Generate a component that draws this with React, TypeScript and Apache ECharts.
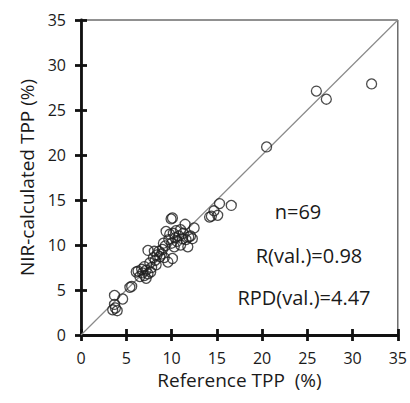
import React, { useEffect, useRef } from "react";
import * as echarts from "echarts";

const referenceTPP: number[] = [
  32.1, 26.0, 27.1, 20.5, 16.6, 15.3, 14.7, 14.2, 15.1, 14.4,
  3.7, 4.6, 3.7, 3.5, 4.0, 3.8, 5.6, 5.4,
  9.95, 10.1, 11.5, 12.5, 9.4, 11.0, 12.3, 11.2, 9.1, 10.3, 11.8,
  7.4, 8.1, 8.7, 9.6, 10.1, 8.3, 7.6, 7.2, 6.8, 6.1, 6.5, 7.2,
  6.3, 6.7, 7.0, 7.4, 7.0, 7.8, 8.0, 8.4, 8.9, 9.2, 8.6, 9.0,
  9.7, 10.0, 10.4, 10.2, 10.6, 10.8, 11.3, 10.5, 11.6, 11.0, 9.8,
  12.1, 9.3, 8.2, 7.7, 11.9,
];
const nirTPP: number[] = [
  27.9, 27.1, 26.2, 20.9, 14.4, 14.6, 13.8, 13.1, 13.3, 13.2,
  4.4, 4.0, 3.4, 2.8, 2.7, 3.0, 5.4, 5.3,
  12.9, 13.0, 12.3, 11.9, 11.5, 11.7, 10.7, 10.7, 10.2, 9.8, 9.8,
  9.4, 9.3, 8.7, 8.1, 8.5, 7.8, 8.0, 7.2, 6.9, 7.0, 6.5, 6.3,
  7.1, 7.3, 6.6, 6.8, 7.6, 7.5, 8.6, 8.9, 9.0, 8.6, 9.3, 9.5,
  10.6, 10.2, 10.8, 11.3, 10.4, 11.0, 11.3, 11.6, 10.6, 10.0, 11.2,
  11.0, 9.9, 8.3, 7.0, 10.9,
];
const axisTicks: number[] = [0, 5, 10, 15, 20, 25, 30, 35];
const identityLine: number[][] = [[0, 0], [35, 35]];
const annotations: string[] = ["n=69", "R(val.)=0.98", "RPD(val.)=4.47"];
const xTitle = "Reference TPP  (%)";
const yTitle = "NIR-calculated TPP (%)";

export default function App() {
  const ref = useRef<HTMLDivElement>(null);
  useEffect(() => {
    if (!ref.current) return;
    const chart = echarts.init(ref.current, null, { renderer: "svg" });
    const font = "'Open Sans'";
    const textColor = "#1a1a1a";
    const minV = axisTicks[0];
    const maxV = axisTicks[axisTicks.length - 1];
    const step = axisTicks[1] - axisTicks[0];
    const baseAxis = {
      type: "value" as const,
      min: minV,
      max: maxV,
      interval: step,
      splitLine: { show: false },
    };
    const points = referenceTPP.map((x, i) => [x, nirTPP[i]]);
    chart.setOption({
      animation: false,
      backgroundColor: "#fff",
      grid: {
        left: 81,
        right: 10,
        top: 20,
        bottom: 68,
        show: true,
        borderColor: "#222",
        borderWidth: 1,
      },
      xAxis: [
        {
          ...baseAxis,
          position: "bottom",
          axisLine: { show: true, lineStyle: { color: "#111", width: 2.8 } },
          axisTick: { show: true, inside: false, length: 6, lineStyle: { color: "#111", width: 2.8 } },
          axisLabel: { margin: 15, fontFamily: font, fontSize: 16, color: textColor },
          name: xTitle,
          nameLocation: "middle",
          nameGap: 35,
          nameTextStyle: { fontFamily: font, fontSize: 19, color: textColor },
        },
        {
          ...baseAxis,
          position: "bottom",
          axisLine: { show: false },
          axisTick: { show: true, inside: true, length: 6, lineStyle: { color: "#111", width: 2.8 } },
          axisLabel: { show: false },
        },
      ],
      yAxis: [
        {
          ...baseAxis,
          position: "left",
          axisLine: { show: true, lineStyle: { color: "#111", width: 2.8 } },
          axisTick: { show: true, inside: false, length: 6, lineStyle: { color: "#111", width: 2.8 } },
          axisLabel: { margin: 15, fontFamily: font, fontSize: 16, color: textColor },
          name: yTitle,
          nameLocation: "middle",
          nameGap: 45,
          nameTextStyle: { fontFamily: font, fontSize: 19, color: textColor },
        },
        {
          ...baseAxis,
          position: "left",
          axisLine: { show: false },
          axisTick: { show: true, inside: true, length: 6, lineStyle: { color: "#111", width: 2.8 } },
          axisLabel: { show: false },
        },
      ],
      series: [
        {
          type: "line",
          data: identityLine,
          symbol: "none",
          lineStyle: { color: "#8a8a8a", width: 1.2 },
          silent: true,
          z: 1,
        },
        {
          type: "scatter",
          data: points,
          symbol: "circle",
          symbolSize: 10,
          itemStyle: { color: "rgba(255,255,255,0)", borderColor: "#1e1e1e", borderWidth: 1.3 },
          z: 2,
        },
      ],
      graphic: [
        { type: "text", x: 298, y: 211, style: { text: annotations[0], font: `20px ${font}`, fill: textColor, align: "center", verticalAlign: "middle" } },
        { type: "text", x: 309, y: 255, style: { text: annotations[1], font: `20px ${font}`, fill: textColor, align: "center", verticalAlign: "middle" } },
        { type: "text", x: 304, y: 297, style: { text: annotations[2], font: `20px ${font}`, fill: textColor, align: "center", verticalAlign: "middle" } },
      ],
    });
    return () => chart.dispose();
  }, []);
  return (
    <div
      ref={ref}
      style={{ position: "fixed", left: 0, top: 0, width: 410, height: 403 }}
    />
  );
}
